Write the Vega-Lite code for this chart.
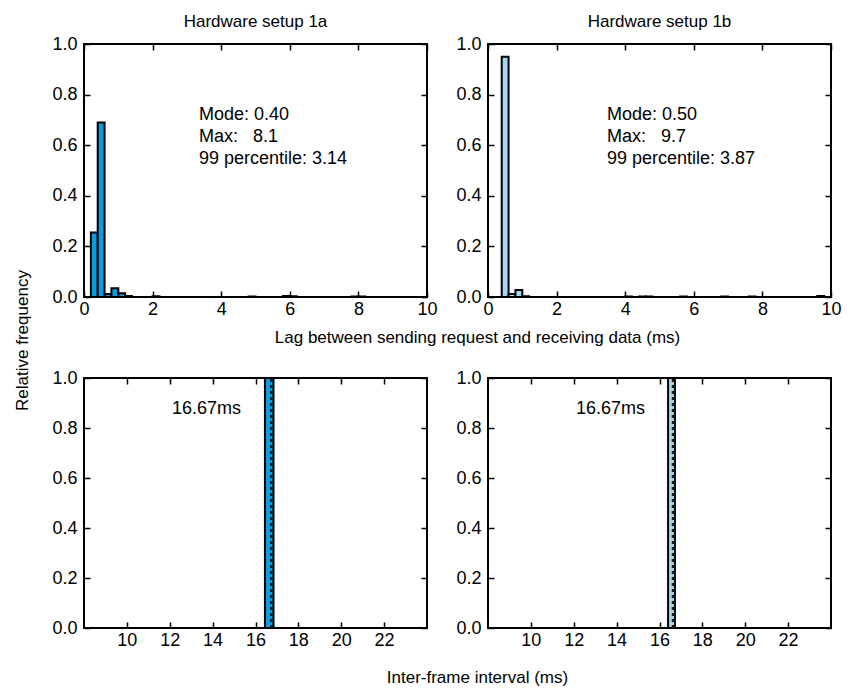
{
  "$schema": "https://vega.github.io/schema/vega-lite/v6.json",
  "padding": {"left": 12, "top": 12, "right": 5, "bottom": 5},
  "background": "white",
  "config": {
    "font": "Liberation Sans",
    "view": {"stroke": "black", "strokeWidth": 2},
    "axis": {
      "domain": false, "grid": false, "labelFlush": false,
      "tickColor": "black", "tickWidth": 1.5, "tickSize": -6,
      "labelFontSize": 18, "labelColor": "black", "labelFont": "Liberation Sans",
      "titleFontSize": 17, "titleFontWeight": "normal", "titleColor": "black", "titleFont": "Liberation Sans"
    },
    "axisX": {"labelPadding": 9},
    "axisY": {"labelPadding": 13},
    "title": {"fontSize": 17, "fontWeight": "normal", "color": "black", "font": "Liberation Sans", "offset": 4}
  },
  "datasets": {
    "lagA": [
      {"x0": 0.2, "x1": 0.4, "freq": 0.255},
      {"x0": 0.4, "x1": 0.6, "freq": 0.69},
      {"x0": 0.6, "x1": 0.8, "freq": 0.012},
      {"x0": 0.8, "x1": 1.0, "freq": 0.035},
      {"x0": 1.0, "x1": 1.2, "freq": 0.015},
      {"x0": 1.2, "x1": 1.4, "freq": 0.004},
      {"x0": 2.0, "x1": 2.2, "freq": 0.003},
      {"x0": 4.8, "x1": 5.0, "freq": 0.002},
      {"x0": 5.8, "x1": 6.0, "freq": 0.004},
      {"x0": 6.0, "x1": 6.2, "freq": 0.003},
      {"x0": 7.8, "x1": 8.0, "freq": 0.002},
      {"x0": 8.0, "x1": 8.2, "freq": 0.002}
    ],
    "lagB": [
      {"x0": 0.4, "x1": 0.6, "freq": 0.95},
      {"x0": 0.6, "x1": 0.8, "freq": 0.012},
      {"x0": 0.8, "x1": 1.0, "freq": 0.028},
      {"x0": 1.0, "x1": 1.2, "freq": 0.003},
      {"x0": 4.0, "x1": 4.2, "freq": 0.002},
      {"x0": 4.4, "x1": 4.6, "freq": 0.002},
      {"x0": 4.6, "x1": 4.8, "freq": 0.002},
      {"x0": 5.6, "x1": 5.8, "freq": 0.002},
      {"x0": 6.8, "x1": 7.0, "freq": 0.002},
      {"x0": 7.6, "x1": 7.8, "freq": 0.002},
      {"x0": 9.6, "x1": 9.8, "freq": 0.004}
    ],
    "notesA": [
      {"x": 3.35, "y": 0.72, "text": "Mode: 0.40"},
      {"x": 3.35, "y": 0.632, "text": "Max:\u00a0\u00a0\u00a08.1"},
      {"x": 3.35, "y": 0.545, "text": "99 percentile: 3.14"}
    ],
    "notesB": [
      {"x": 3.47, "y": 0.72, "text": "Mode: 0.50"},
      {"x": 3.47, "y": 0.632, "text": "Max:\u00a0\u00a0\u00a09.7"},
      {"x": 3.47, "y": 0.545, "text": "99 percentile: 3.87"}
    ],
    "ifiA": [
      {"x0": 16.44, "x1": 16.84, "freq": 1.0, "dash": 16.74, "y0": 0, "y1": 1}
    ],
    "ifiB": [
      {"x0": 16.4, "x1": 16.72, "freq": 1.0, "dash": 16.63, "y0": 0, "y1": 1}
    ],
    "ifiNote": [
      {"x": 15.32, "y": 0.876, "text": "16.67ms"}
    ]
  },
  "concat": [
    {
      "width": 343, "height": 253,
      "title": {"text": "Hardware setup 1a"},
      "layer": [
        {
          "data": {"name": "lagA"},
          "mark": {"type": "bar", "fill": "#0a9be0", "stroke": "black", "strokeWidth": 2},
          "encoding": {
            "x": {"field": "x0", "type": "quantitative", "scale": {"domain": [0, 10], "nice": false, "zero": false},
                  "axis": {"orient": "bottom", "values": [0, 2, 4, 6, 8, 10], "format": "d",
                           "title": "Lag between sending request and receiving data (ms)", "titleX": 393, "titleY": 40, "titleBaseline": "middle"}},
            "x2": {"field": "x1"},
            "y": {"field": "freq", "type": "quantitative", "scale": {"domain": [0, 1], "nice": false},
                  "axis": {"orient": "left", "values": [0, 0.2, 0.4, 0.6, 0.8, 1], "format": ".1f",
                           "title": "Relative frequency", "titleX": -53, "titleY": 296}},
            "y2": {"datum": 0}
          }
        },
        {
          "data": {"name": "lagA"},
          "mark": {"type": "bar", "opacity": 0},
          "encoding": {
            "x": {"field": "x0", "type": "quantitative", "axis": {"orient": "top", "values": [0, 2, 4, 6, 8, 10], "labels": false, "title": null}},
            "x2": {"field": "x1"},
            "y": {"field": "freq", "type": "quantitative", "axis": {"orient": "right", "values": [0, 0.2, 0.4, 0.6, 0.8, 1], "labels": false, "title": null}},
            "y2": {"datum": 0}
          }
        },
        {
          "data": {"name": "notesA"},
          "mark": {"type": "text", "align": "left", "baseline": "middle", "fontSize": 18, "color": "black"},
          "encoding": {
            "x": {"field": "x", "type": "quantitative", "axis": null},
            "y": {"field": "y", "type": "quantitative", "axis": null},
            "text": {"field": "text"}
          }
        }
      ],
      "resolve": {"axis": {"x": "independent", "y": "independent"}}
    },
    {
      "width": 343, "height": 253,
      "title": {"text": "Hardware setup 1b"},
      "layer": [
        {
          "data": {"name": "lagB"},
          "mark": {"type": "bar", "fill": "#a3d7f2", "stroke": "black", "strokeWidth": 2},
          "encoding": {
            "x": {"field": "x0", "type": "quantitative", "scale": {"domain": [0, 10], "nice": false, "zero": false},
                  "axis": {"orient": "bottom", "values": [0, 2, 4, 6, 8, 10], "format": "d", "title": null}},
            "x2": {"field": "x1"},
            "y": {"field": "freq", "type": "quantitative", "scale": {"domain": [0, 1], "nice": false},
                  "axis": {"orient": "left", "values": [0, 0.2, 0.4, 0.6, 0.8, 1], "format": ".1f", "title": null}},
            "y2": {"datum": 0}
          }
        },
        {
          "data": {"name": "lagB"},
          "mark": {"type": "bar", "opacity": 0},
          "encoding": {
            "x": {"field": "x0", "type": "quantitative", "axis": {"orient": "top", "values": [0, 2, 4, 6, 8, 10], "labels": false, "title": null}},
            "x2": {"field": "x1"},
            "y": {"field": "freq", "type": "quantitative", "axis": {"orient": "right", "values": [0, 0.2, 0.4, 0.6, 0.8, 1], "labels": false, "title": null}},
            "y2": {"datum": 0}
          }
        },
        {
          "data": {"name": "notesB"},
          "mark": {"type": "text", "align": "left", "baseline": "middle", "fontSize": 18, "color": "black"},
          "encoding": {
            "x": {"field": "x", "type": "quantitative", "axis": null},
            "y": {"field": "y", "type": "quantitative", "axis": null},
            "text": {"field": "text"}
          }
        }
      ],
      "resolve": {"axis": {"x": "independent", "y": "independent"}}
    },
    {
      "width": 343, "height": 250,
      "layer": [
        {
          "data": {"name": "ifiA"},
          "mark": {"type": "bar", "fill": "#0a9be0", "stroke": "black", "strokeWidth": 2},
          "encoding": {
            "x": {"field": "x0", "type": "quantitative", "scale": {"domain": [8, 24], "nice": false, "zero": false},
                  "axis": {"orient": "bottom", "values": [10, 12, 14, 16, 18, 20, 22], "format": "d",
                           "title": "Inter-frame interval (ms)", "titleX": 393, "titleY": 49, "titleBaseline": "middle"}},
            "x2": {"field": "x1"},
            "y": {"field": "freq", "type": "quantitative", "scale": {"domain": [0, 1], "nice": false},
                  "axis": {"orient": "left", "values": [0, 0.2, 0.4, 0.6, 0.8, 1], "format": ".1f", "title": null}},
            "y2": {"datum": 0}
          }
        },
        {
          "data": {"name": "ifiA"},
          "mark": {"type": "rule", "stroke": "#1a1a1a", "strokeWidth": 2.5, "strokeDash": [3, 3]},
          "encoding": {
            "x": {"field": "dash", "type": "quantitative", "axis": {"orient": "top", "values": [10, 12, 14, 16, 18, 20, 22], "labels": false, "title": null}},
            "y": {"field": "y0", "type": "quantitative", "axis": {"orient": "right", "values": [0, 0.2, 0.4, 0.6, 0.8, 1], "labels": false, "title": null}},
            "y2": {"field": "y1"}
          }
        },
        {
          "data": {"name": "ifiNote"},
          "mark": {"type": "text", "align": "right", "baseline": "middle", "fontSize": 18, "color": "black"},
          "encoding": {
            "x": {"field": "x", "type": "quantitative", "axis": null},
            "y": {"field": "y", "type": "quantitative", "axis": null},
            "text": {"field": "text"}
          }
        }
      ],
      "resolve": {"axis": {"x": "independent", "y": "independent"}}
    },
    {
      "width": 343, "height": 250,
      "layer": [
        {
          "data": {"name": "ifiB"},
          "mark": {"type": "bar", "fill": "#a3d7f2", "stroke": "black", "strokeWidth": 2},
          "encoding": {
            "x": {"field": "x0", "type": "quantitative", "scale": {"domain": [8, 24], "nice": false, "zero": false},
                  "axis": {"orient": "bottom", "values": [10, 12, 14, 16, 18, 20, 22], "format": "d", "title": null}},
            "x2": {"field": "x1"},
            "y": {"field": "freq", "type": "quantitative", "scale": {"domain": [0, 1], "nice": false},
                  "axis": {"orient": "left", "values": [0, 0.2, 0.4, 0.6, 0.8, 1], "format": ".1f", "title": null}},
            "y2": {"datum": 0}
          }
        },
        {
          "data": {"name": "ifiB"},
          "mark": {"type": "rule", "stroke": "#1a1a1a", "strokeWidth": 2.5, "strokeDash": [3, 3]},
          "encoding": {
            "x": {"field": "dash", "type": "quantitative", "axis": {"orient": "top", "values": [10, 12, 14, 16, 18, 20, 22], "labels": false, "title": null}},
            "y": {"field": "y0", "type": "quantitative", "axis": {"orient": "right", "values": [0, 0.2, 0.4, 0.6, 0.8, 1], "labels": false, "title": null}},
            "y2": {"field": "y1"}
          }
        },
        {
          "data": {"name": "ifiNote"},
          "mark": {"type": "text", "align": "right", "baseline": "middle", "fontSize": 18, "color": "black"},
          "encoding": {
            "x": {"field": "x", "type": "quantitative", "axis": null},
            "y": {"field": "y", "type": "quantitative", "axis": null},
            "text": {"field": "text"}
          }
        }
      ],
      "resolve": {"axis": {"x": "independent", "y": "independent"}}
    }
  ],
  "columns": 2,
  "spacing": {"row": 81, "column": 61},
  "bounds": "flush"
}
